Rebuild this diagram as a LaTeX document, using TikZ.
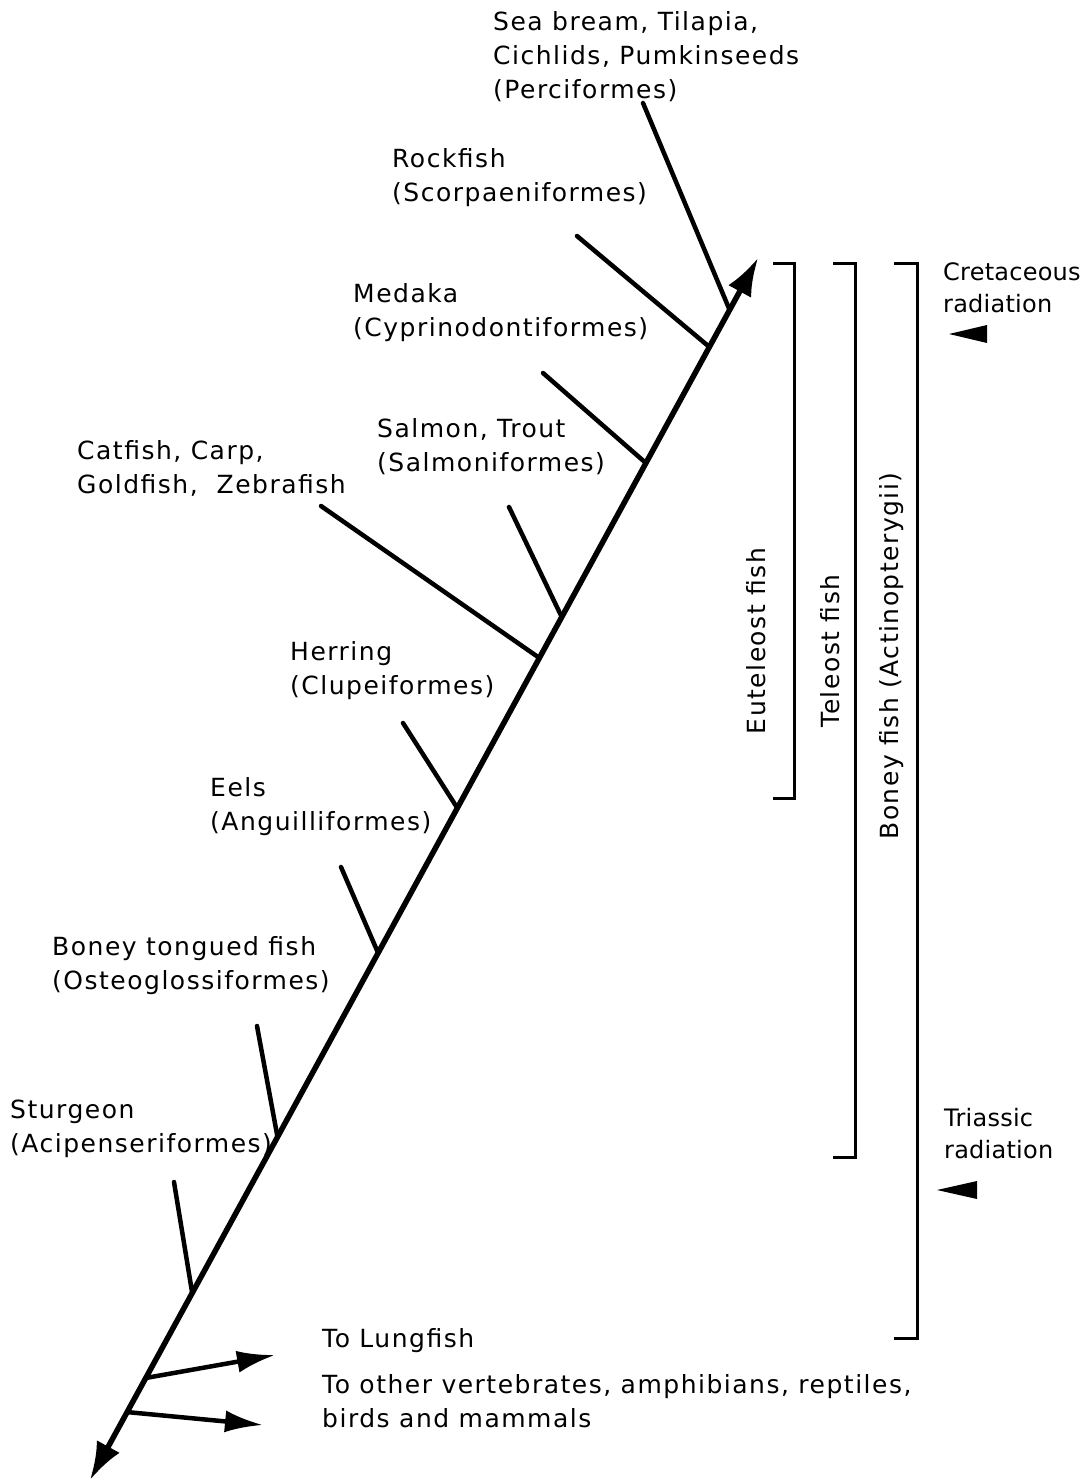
\documentclass[tikz,border=0pt]{standalone}
\usepackage{fontspec}
\setmainfont{DejaVu Sans}[LetterSpace=6]
\usetikzlibrary{arrows.meta,calc}
\begin{document}
\begin{tikzpicture}[x=1pt,y=-1pt,
  lbl/.style={anchor=north west, inner sep=0pt, align=left, font=\fontsize{25}{34}\selectfont},
  rlbl/.style={anchor=north west, inner sep=0pt, align=left, font=\fontsize{24}{32}\selectfont\addfontfeatures{LetterSpace=1}},
  vlbl/.style={rotate=90, inner sep=0pt, font=\fontsize{25}{34}\selectfont},
  trunk/.style={line width=5.5pt},
  branch/.style={line width=4.5pt, line cap=round},
  outarrow/.style={line width=4.5pt, -{Latex[length=38pt,width=22pt]}},
  brk/.style={line width=3pt},
  tri/.style={fill=black}]
\useasboundingbox (0,0) rectangle (1087,1482);
% main trunk
\coordinate (base) at (90,1480);
\coordinate (tip) at (758,258);
\draw[trunk, {Latex[length=38pt,width=26pt]}-{Latex[length=38pt,width=26pt]}] (base) -- (tip);
% junctions on the trunk
\coordinate (jPerc) at ($(base)!0.9575!(tip)$);
\coordinate (jRock) at ($(base)!0.9272!(tip)$);
\coordinate (jMed)  at ($(base)!0.8322!(tip)$);
\coordinate (jSal)  at ($(base)!0.7062!(tip)$);
\coordinate (jCat)  at ($(base)!0.6727!(tip)$);
\coordinate (jHer)  at ($(base)!0.5499!(tip)$);
\coordinate (jEel)  at ($(base)!0.4313!(tip)$);
\coordinate (jBon)  at ($(base)!0.2807!(tip)$);
\coordinate (jStu)  at ($(base)!0.1530!(tip)$);
\coordinate (jLung) at ($(base)!0.0835!(tip)$);
\coordinate (jOth)  at ($(base)!0.0556!(tip)$);
% free ends of branches
\coordinate (ePerc) at (643,103);
\coordinate (eRock) at (577,236);
\coordinate (eMed)  at (543,373);
\coordinate (eSal)  at (509,507);
\coordinate (eCat)  at (321,506);
\coordinate (eHer)  at (403,723);
\coordinate (eEel)  at (341,867);
\coordinate (eBon)  at (257,1026);
\coordinate (eStu)  at (174,1182);
\coordinate (aLung) at (275,1355);
\coordinate (aOth)  at (263,1425);
% branches
\draw[branch] (ePerc) -- (jPerc);
\draw[branch] (eRock) -- (jRock);
\draw[branch] (eMed) -- (jMed);
\draw[branch] (eSal) -- (jSal);
\draw[branch] (eCat) -- (jCat);
\draw[branch] (eHer) -- (jHer);
\draw[branch] (eEel) -- (jEel);
\draw[branch] (eBon) -- (jBon);
\draw[branch] (eStu) -- (jStu);
\draw[outarrow] (jLung) -- (aLung);
\draw[outarrow] (jOth) -- (aOth);
% labels
\node[lbl] (perc) at (493,11) {Sea bream, Tilapia,\\Cichlids, Pumkinseeds\\(Perciformes)};
\node[lbl] (rock) at (392,148) {Rockfish\\(Scorpaeniformes)};
\node[lbl] (med) at (353,283) {Medaka\\(Cyprinodontiformes)};
\node[lbl] (sal) at (377,418) {Salmon, Trout\\(Salmoniformes)};
\node[lbl] (cat) at (77,440) {Catfish, Carp,\\Goldfish,\ \ Zebrafish};
\node[lbl] (her) at (290,641) {Herring\\(Clupeiformes)};
\node[lbl] (eel) at (210,777) {Eels\\(Anguilliformes)};
\node[lbl] (bon) at (52,936) {Boney tongued fish\\(Osteoglossiformes)};
\node[lbl] (stu) at (10,1100) {Sturgeon\\(Acipenseriformes)};
\node[lbl] (lung) at (322,1328) {To Lungfish};
\node[lbl] (oth) at (322,1374) {To other vertebrates, amphibians, reptiles,\\birds and mammals};
\node[rlbl] (cret) at (943,262) {Cretaceous\\radiation};
\node[rlbl] (tria) at (944,1108) {Triassic\\radiation};
% brackets
\draw[brk] (773,263) -- (794,263) -- (794,798) -- (773,798);
\draw[brk] (833,263) -- (855,263) -- (855,1157) -- (833,1157);
\draw[brk] (894,263) -- (917,263) -- (917,1338) -- (894,1338);
\node[vlbl] (eut) at (756,641) {Euteleost fish};
\node[vlbl] (tel) at (830,651) {Teleost fish};
\node[vlbl] (bony) at (892,656) {Boney fish (Actinopterygii)};
% radiation markers
\fill[tri] (949,334) -- (987,325) -- (987,343) -- cycle;
\fill[tri] (937,1190) -- (977,1181) -- (977,1199) -- cycle;
\end{tikzpicture}
\end{document}
